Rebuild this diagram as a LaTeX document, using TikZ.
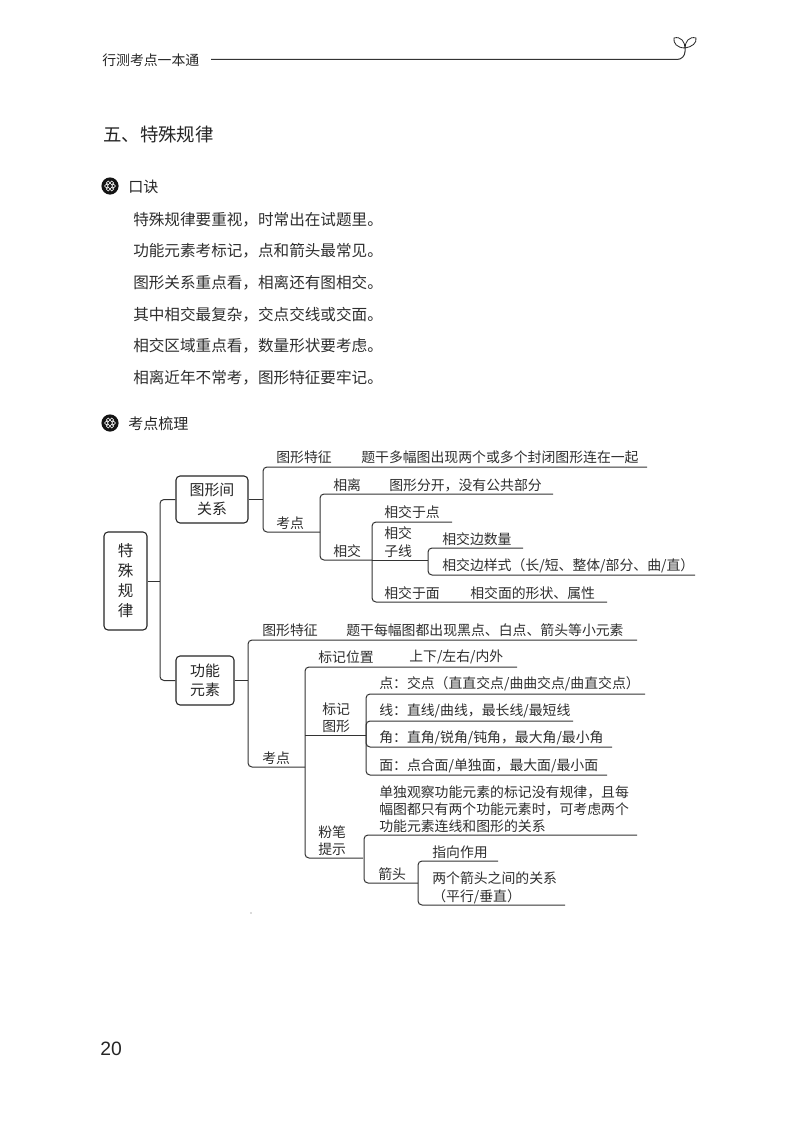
\documentclass[tikz,border=0pt]{standalone}
\usepackage{fontspec}
\setmainfont{Noto Sans CJK SC}
\newfontfamily\numfont{Liberation Sans}
\tikzset{
  conn/.style={line width=0.75pt,draw=black!80,rounded corners=3pt},
  stub/.style={line width=0.75pt,draw=black!80},
  boxn/.style={draw=black!85,line width=0.8pt,rounded corners=3pt,inner sep=0pt,align=center,text=black!85},
  lbl/.style={anchor=west,inner sep=0pt,yshift=-0.7pt,text=black!82,font=\fontsize{10.4pt}{13.1pt}\selectfont,align=left},
  verse/.style={anchor=west,inner sep=0pt,yshift=-0.7pt,text=black!82,font=\fontsize{11.7pt}{14pt}\selectfont},
  head/.style={anchor=west,inner sep=0pt,yshift=-0.7pt,text=black!85,font=\fontsize{11pt}{14pt}\selectfont},
  petal/.style={draw=white,line width=0.45pt}
}
\begin{document}
\begin{tikzpicture}[x=0.75pt,y=-0.75pt]
\useasboundingbox (0,0) rectangle (800,1138);
\fill[white] (0,0) rectangle (800,1138);
% header
\node[head,font=\fontsize{10.4pt}{13pt}\selectfont] (hdr) at (102,59) {行测考点一本通};
\coordinate (hl) at (211,59.5);
\coordinate (hr) at (685,48);
\draw[conn,rounded corners=6pt] (hl) -| (hr);
\draw[line width=0.6pt,black!85] (685,48) .. controls (677,48) and (673,43) .. (674,38) .. controls (681,36) and (685,42) .. (685,48);
\draw[line width=0.6pt,black!85] (685,48) .. controls (692,47) and (697,43) .. (696,38) .. controls (689,36) and (685,42) .. (685,48);
% title
\node[head,font=\fontsize{13.8pt}{16pt}\selectfont] (ttl) at (103,134) {五、特殊规律};
% section heads
\foreach \cy in {186,423}{
  \fill[black!92] (110,\cy) circle (8.6);
  \foreach \a in {0,60,...,300}{
    \draw[petal] (110,\cy) ++(\a:3.6) circle (1.9);
  }
}
\node[head,font=\fontsize{11.3pt}{14pt}\selectfont] (s1) at (128,186) {口诀};
\node[head,font=\fontsize{11.3pt}{14pt}\selectfont] (s2) at (128,423) {考点梳理};
% verses
\node[verse] (v1) at (133,219) {特殊规律要重视，时常出在试题里。};
\node[verse] (v2) at (133,250) {功能元素考标记，点和箭头最常见。};
\node[verse] (v3) at (133,282) {图形关系重点看，相离还有图相交。};
\node[verse] (v4) at (133,314) {其中相交最复杂，交点交线或交面。};
\node[verse] (v5) at (133,345) {相交区域重点看，数量形状要考虑。};
\node[verse] (v6) at (133,377) {相离近年不常考，图形特征要牢记。};
% boxes
\node[boxn,minimum width=32.25pt,minimum height=73.5pt,font=\fontsize{11.6pt}{15pt}\selectfont] (root) at (125.5,581) {特\\殊\\规\\律};
\node[boxn,minimum width=54pt,minimum height=35.25pt,font=\fontsize{11.2pt}{14.2pt}\selectfont] (bxa) at (212,499.5) {图形间\\关系};
\node[boxn,minimum width=43.5pt,minimum height=36.75pt,font=\fontsize{11.2pt}{14.2pt}\selectfont] (bxb) at (205,680.5) {功能\\元素};
% root bus
\coordinate (rj) at (160,581);
\draw[stub] (root.east) -- (rj);
\draw[conn] (bxa.west) -| (rj) |- (bxb.west);
% group A
\coordinate (a1) at (263,499.5); \coordinate (a1t) at (647,467); \coordinate (a1b) at (320,532);
\draw[stub] (bxa.east) -- (a1);
\draw[conn] (a1t) -| (a1) |- (a1b);
\coordinate (a2) at (320,532); \coordinate (a2t) at (553,494); \coordinate (a2b) at (372,560);
\draw[conn] (a2t) -| (a2) |- (a2b);
\coordinate (a3) at (372,560); \coordinate (a3t) at (452,522); \coordinate (a3b) at (607,602);
\draw[conn] (a3t) -| (a3) |- (a3b);
\coordinate (a4) at (428,560);
\draw[stub] (a3) -- (a4);
\coordinate (a4t) at (523,548); \coordinate (a4b) at (695,575);
\draw[conn] (a4t) -| (a4) |- (a4b);
% group B
\coordinate (b1) at (248,680.5); \coordinate (b1t) at (637,640); \coordinate (b1b) at (305,767);
\draw[stub] (bxb.east) -- (b1);
\draw[conn] (b1t) -| (b1) |- (b1b);
\coordinate (b2) at (305,767); \coordinate (b2t) at (517,667); \coordinate (b2b) at (363,858);
\draw[conn] (b2t) -| (b2) |- (b2b);
\coordinate (b3l) at (305,735); \coordinate (b3) at (366,735);
\draw[stub] (b3l) -- (b3);
\coordinate (b3t) at (645,694); \coordinate (b3b) at (607,775);
\draw[conn] (b3t) -| (b3) |- (b3b);
\coordinate (b3m1) at (573,721); \coordinate (b3m2) at (612,747);
\draw[conn] (b3) |- (b3m1);
\draw[conn] (b3) |- (b3m2);
\coordinate (b4) at (364,858); \coordinate (b4t) at (637,835); \coordinate (b4b) at (418,883);
\draw[conn] (b4t) -| (b4) |- (b4b);
\coordinate (b5) at (418,883); \coordinate (b5t) at (498,861); \coordinate (b5b) at (565,905);
\draw[conn] (b5t) -| (b5) |- (b5b);
% labels A
\node[lbl] (l1) at (276,456) {图形特征};
\node[lbl] (l2) at (361,456) {题干多幅图出现两个或多个封闭图形连在一起};
\node[lbl] (l3) at (276,522) {考点};
\node[lbl] (l4) at (333,484) {相离};
\node[lbl] (l5) at (389,484) {图形分开，没有公共部分};
\node[lbl] (l6) at (333,550) {相交};
\node[lbl] (l7) at (384,511) {相交于点};
\node[lbl,align=center] (l8) at (384,541) {相交\\子线};
\node[lbl] (l9) at (442,538) {相交边数量};
\node[lbl] (l10) at (442,565) {相交边样式（长/短、整体/部分、曲/直）};
\node[lbl] (l11) at (384,592) {相交于面};
\node[lbl] (l12) at (470,592) {相交面的形状、属性};
% labels B
\node[lbl] (m1) at (262,629) {图形特征};
\node[lbl] (m2) at (346,629) {题干每幅图都出现黑点、白点、箭头等小元素};
\node[lbl] (m3) at (262,757) {考点};
\node[lbl] (m4) at (318,656) {标记位置};
\node[lbl] (m5) at (409,656) {上下/左右/内外};
\node[lbl,align=center] (m6) at (322,717) {标记\\图形};
\node[lbl] (m7) at (379,683) {点：交点（直直交点/曲曲交点/曲直交点）};
\node[lbl] (m8) at (379,710) {线：直线/曲线，最长线/最短线};
\node[lbl] (m9) at (379,737) {角：直角/锐角/钝角，最大角/最小角};
\node[lbl] (m10) at (379,765) {面：点合面/单独面，最大面/最小面};
\node[lbl] (m11) at (318,840) {粉笔\\提示};
\node[lbl,font=\fontsize{10.4pt}{12.8pt}\selectfont] (m12) at (379,808) {单独观察功能元素的标记没有规律，且每\\幅图都只有两个功能元素时，可考虑两个\\功能元素连线和图形的关系};
\node[lbl] (m13) at (378,873) {箭头};
\node[lbl] (m14) at (432,851) {指向作用};
\node[lbl] (m15) at (432,887) {两个箭头之间的关系\\（平行/垂直）};
% page number and speck
\node[anchor=west,inner sep=0pt,text=black!85,font=\numfont\fontsize{14.5pt}{16pt}\selectfont] (pg) at (100,1049) {20};
\fill[black!60] (251,913) circle (0.7);
\end{tikzpicture}
\end{document}
